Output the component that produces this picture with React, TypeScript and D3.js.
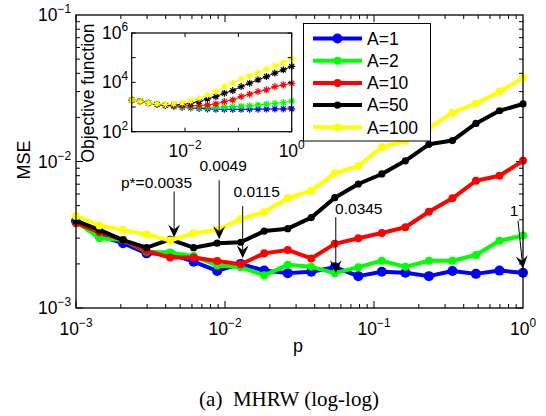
import React, { useEffect, useRef } from "react";
import * as d3 from "d3";

// sampling probabilities p (20 log-spaced points)
const pValues = [
  0.001, 0.0014384, 0.0020691, 0.0029764, 0.0042813, 0.0061585, 0.0088587, 0.012743, 0.01833, 0.026367,
  0.037927, 0.054556, 0.078476, 0.11288, 0.16238, 0.23357, 0.33598, 0.48329, 0.69519, 1,
];

const seriesNames = ["A=1", "A=2", "A=10", "A=50", "A=100"];
const seriesColors = ["#0000ff", "#00ff00", "#ff0000", "#000000", "#ffff00"];
const markerRadius = [5, 4, 4, 3.6, 4];

// MSE (main plot)
const mseA1 = [
  0.00393, 0.0031, 0.00277, 0.00236, 0.00234, 0.00207, 0.00179, 0.002, 0.0018, 0.00173,
  0.00177, 0.0019, 0.00165, 0.00177, 0.00174, 0.00165, 0.00179, 0.00171, 0.0018, 0.00174,
];
const mseA2 = [
  0.0039, 0.00299, 0.00291, 0.00242, 0.00239, 0.00226, 0.00195, 0.0019, 0.00167, 0.00197,
  0.00191, 0.00173, 0.0019, 0.0021, 0.00191, 0.0021, 0.0021, 0.0023, 0.00288, 0.00312,
];
const mseA10 = [
  0.00379, 0.0033, 0.00291, 0.00245, 0.00221, 0.00221, 0.00209, 0.00199, 0.00236, 0.00249,
  0.00218, 0.00274, 0.00299, 0.00325, 0.00356, 0.00454, 0.00561, 0.00739, 0.008, 0.0101,
];
const mseA50 = [
  0.00393, 0.00341, 0.00291, 0.00258, 0.00294, 0.00258, 0.00277, 0.00281, 0.00335, 0.00348,
  0.00414, 0.00566, 0.00702, 0.00822, 0.0101, 0.0131, 0.0139, 0.0182, 0.0222, 0.0247,
];
const mseA100 = [
  0.00425, 0.00366, 0.00341, 0.00318, 0.00289, 0.00324, 0.00341, 0.00405, 0.00452, 0.00561,
  0.00632, 0.00831, 0.00932, 0.0125, 0.0138, 0.0169, 0.0215, 0.0249, 0.03, 0.037,
];

// objective function (inset)
const objA1 = [
  1945, 1690, 1470, 1275, 1160, 1058, 963, 919, 877, 837, 814, 814, 814, 814, 822, 822, 830, 837, 837, 837,
];
const objA2 = [
  1945, 1690, 1470, 1275, 1160, 1058, 1009, 963, 963, 963, 982, 1009, 1038, 1078, 1109, 1217, 1300, 1400, 1510, 1770,
];
const objA10 = [
  1945, 1690, 1470, 1275, 1160, 1109, 1109, 1109, 1160, 1217, 1340, 1660, 1945, 2650, 3310, 4230, 4960, 6750, 7910, 9100,
];
const objA50 = [
  1945, 1690, 1470, 1275, 1217, 1217, 1275, 1400, 1690, 2130, 2650, 3640, 4640, 6750, 9270, 12600, 17200, 23700, 32200, 44700,
];
const objA100 = [
  1945, 1690, 1470, 1340, 1275, 1340, 1470, 1770, 2240, 3100, 4230, 6750, 9270, 13500, 18400, 25000, 34400, 46900, 63800, 90200,
];

const mseSeries = [mseA1, mseA2, mseA10, mseA50, mseA100];
const objSeries = [objA1, objA2, objA10, objA50, objA100];

const xTickExps = [-3, -2, -1, 0];
const yTickExps = [-3, -2, -1];
const insetXTickExps = [-2, 0];
const insetYTickExps = [2, 4, 6];

// text arrows: tip sits on a data point (series index, p index), offsets in px
const annotations = [
  { text: "p*=0.0035", s: 4, i: 4, tipDx: 4, tipDy: -3, len: 46, textDx: 18, textDy: -49, anchor: "end" },
  { text: "0.0049", s: 3, i: 6, tipDx: 2, tipDy: -4, len: 59, textDx: 4, textDy: -68, anchor: "middle" },
  { text: "0.0115", s: 2, i: 7, tipDx: 2, tipDy: -6, len: 52, textDx: 14, textDy: -61, anchor: "middle" },
  { text: "0.0345", s: 1, i: 11, tipDx: 1, tipDy: 0, len: 56, textDx: 23, textDy: -59, anchor: "middle" },
  { text: "1", s: 0, i: 19, tipDx: 0, tipDy: -4, len: 48, textDx: -9, textDy: -53, anchor: "middle", slant: -5 },
];

const FONT = "'Liberation Sans', Arial, Helvetica, sans-serif";

function addPow(g, x, y, exp, anchor, size) {
  const t = g
    .append("text")
    .attr("x", x)
    .attr("y", y)
    .attr("text-anchor", anchor)
    .attr("font-family", FONT)
    .attr("font-size", size)
    .attr("fill", "#000");
  t.append("tspan").text("10");
  t.append("tspan")
    .attr("dy", -size * 0.45)
    .attr("font-size", size * 0.68)
    .text(String(exp).replace("-", "\u2212"));
  return t;
}

export default function App() {
  const ref = useRef(null);

  useEffect(() => {
    const svg = d3.select(ref.current);
    svg.selectAll("*").remove();

    const left = 76,
      right = 523,
      top = 15,
      bottom = 308;

    const x = d3.scaleLog().domain([1e-3, 1]).range([left, right]);
    const y = d3.scaleLog().domain([1e-3, 1e-1]).range([bottom, top]);

    svg.append("rect").attr("width", 546).attr("height", 416).attr("fill", "#fff");

    // ticks (inward, both sides)
    const ticks = svg.append("g").attr("stroke", "#000").attr("stroke-width", 1);
    for (let d = -3; d < 0; d++) {
      for (let k = 1; k < 10; k++) {
        const v = k * Math.pow(10, d);
        const len = k === 1 ? 7 : 4;
        const px = x(v);
        ticks.append("line").attr("x1", px).attr("x2", px).attr("y1", bottom).attr("y2", bottom - len);
        ticks.append("line").attr("x1", px).attr("x2", px).attr("y1", top).attr("y2", top + len);
      }
    }
    for (let d = -3; d < -1; d++) {
      for (let k = 1; k < 10; k++) {
        const v = k * Math.pow(10, d);
        const len = k === 1 ? 7 : 4;
        const py = y(v);
        ticks.append("line").attr("x1", left).attr("x2", left + len).attr("y1", py).attr("y2", py);
        ticks.append("line").attr("x1", right).attr("x2", right - len).attr("y1", py).attr("y2", py);
      }
    }

    // lines + markers
    const line = d3
      .line()
      .x((d) => x(d[0]))
      .y((d) => y(d[1]));

    mseSeries.forEach((vals, s) => {
      const pts = pValues.map((p, i) => [p, vals[i]]);
      svg
        .append("path")
        .attr("d", line(pts))
        .attr("fill", "none")
        .attr("stroke", seriesColors[s])
        .attr("stroke-width", 4)
        .attr("stroke-linejoin", "round");
      svg
        .append("g")
        .selectAll("circle")
        .data(pts)
        .enter()
        .append("circle")
        .attr("cx", (d) => x(d[0]))
        .attr("cy", (d) => y(d[1]))
        .attr("r", markerRadius[s])
        .attr("fill", seriesColors[s]);
    });

    // frame
    svg
      .append("rect")
      .attr("x", left)
      .attr("y", top)
      .attr("width", right - left)
      .attr("height", bottom - top)
      .attr("fill", "none")
      .attr("stroke", "#000")
      .attr("stroke-width", 1.3);

    // tick labels
    xTickExps.forEach((e) => addPow(svg, x(Math.pow(10, e)), 335, e, "middle", 17.5));
    yTickExps.forEach((e) => addPow(svg, 71, y(Math.pow(10, e)) + 6, e, "end", 17.5));

    svg
      .append("text")
      .attr("x", 298)
      .attr("y", 352)
      .attr("text-anchor", "middle")
      .attr("font-family", FONT)
      .attr("font-size", 18)
      .text("p");
    svg
      .append("text")
      .attr("transform", "translate(30,160) rotate(-90)")
      .attr("text-anchor", "middle")
      .attr("font-family", FONT)
      .attr("font-size", 18)
      .text("MSE");

    // annotations
    annotations.forEach((a) => {
      const tx = x(pValues[a.i]) + a.tipDx;
      const ty = y(mseSeries[a.s][a.i]) + a.tipDy;
      const sx = tx + (a.slant || 0);
      const sy = ty - a.len;
      const ang = Math.atan2(ty - sy, tx - sx);
      const hl = 13,
        hw = 6,
        notch = 5;
      const bx = tx - hl * Math.cos(ang),
        by = ty - hl * Math.sin(ang);
      const nx = tx - (hl - notch) * Math.cos(ang),
        ny = ty - (hl - notch) * Math.sin(ang);
      const px = -Math.sin(ang),
        py = Math.cos(ang);
      svg
        .append("line")
        .attr("x1", sx)
        .attr("y1", sy)
        .attr("x2", nx)
        .attr("y2", ny)
        .attr("stroke", "#000")
        .attr("stroke-width", 1);
      svg
        .append("path")
        .attr(
          "d",
          `M${tx},${ty}L${bx + px * hw},${by + py * hw}L${nx},${ny}L${bx - px * hw},${by - py * hw}Z`
        )
        .attr("fill", "#000");
      svg
        .append("text")
        .attr("x", x(pValues[a.i]) + a.tipDx + a.textDx)
        .attr("y", ty + a.textDy)
        .attr("text-anchor", a.anchor)
        .attr("font-family", FONT)
        .attr("font-size", 15.5)
        .text(a.text);
    });

    // legend
    const lg = svg.append("g");
    lg.append("rect")
      .attr("x", 303.5)
      .attr("y", 23.5)
      .attr("width", 127)
      .attr("height", 117.5)
      .attr("fill", "#fff")
      .attr("stroke", "#000")
      .attr("stroke-width", 1);
    seriesNames.forEach((name, s) => {
      const cy = 38.5 + s * 22.2;
      lg.append("line")
        .attr("x1", 313)
        .attr("x2", 362)
        .attr("y1", cy)
        .attr("y2", cy)
        .attr("stroke", seriesColors[s])
        .attr("stroke-width", 4);
      lg.append("circle").attr("cx", 337.5).attr("cy", cy).attr("r", markerRadius[s]).attr("fill", seriesColors[s]);
      lg.append("text")
        .attr("x", 367)
        .attr("y", cy + 6.2)
        .attr("font-family", FONT)
        .attr("font-size", 17.5)
        .text(name);
    });

    // inset
    const il = 131.7,
      ir = 291.7,
      it = 33,
      ib = 131.7;
    const ix = d3.scaleLog().domain([1e-3, 1]).range([il, ir]);
    const iy = d3.scaleLog().domain([1e2, 1e6]).range([ib, it]);
    const ig = svg.append("g");
    ig.append("rect")
      .attr("x", il)
      .attr("y", it)
      .attr("width", ir - il)
      .attr("height", ib - it)
      .attr("fill", "#fff");

    const iline = d3
      .line()
      .x((d) => ix(d[0]))
      .y((d) => iy(d[1]));
    const star = "M-3.5,0L3.5,0M0,-3.5L0,3.5M-2.5,-2.5L2.5,2.5M-2.5,2.5L2.5,-2.5";
    objSeries.forEach((vals, s) => {
      const pts = pValues.map((p, i) => [p, vals[i]]);
      ig.append("path")
        .attr("d", iline(pts))
        .attr("fill", "none")
        .attr("stroke", seriesColors[s])
        .attr("stroke-width", 1);
      ig.append("g")
        .selectAll("path")
        .data(pts)
        .enter()
        .append("path")
        .attr("transform", (d) => `translate(${ix(d[0])},${iy(d[1])})`)
        .attr("d", star)
        .attr("stroke", seriesColors[s])
        .attr("stroke-width", 1.2)
        .attr("fill", "none");
    });

    const it2 = ig.append("g").attr("stroke", "#000").attr("stroke-width", 1);
    [-3, -2, -1, 0].forEach((e) => {
      const px = ix(Math.pow(10, e));
      it2.append("line").attr("x1", px).attr("x2", px).attr("y1", ib).attr("y2", ib - 4);
      it2.append("line").attr("x1", px).attr("x2", px).attr("y1", it).attr("y2", it + 4);
    });
    [2, 3, 4, 5, 6].forEach((e) => {
      const py = iy(Math.pow(10, e));
      it2.append("line").attr("x1", il).attr("x2", il + 4).attr("y1", py).attr("y2", py);
      it2.append("line").attr("x1", ir).attr("x2", ir - 4).attr("y1", py).attr("y2", py);
    });
    ig.append("rect")
      .attr("x", il)
      .attr("y", it)
      .attr("width", ir - il)
      .attr("height", ib - it)
      .attr("fill", "none")
      .attr("stroke", "#000")
      .attr("stroke-width", 1.2);

    insetXTickExps.forEach((e) => addPow(ig, ix(Math.pow(10, e)), 157, e, "middle", 17.5));
    insetYTickExps.forEach((e) => addPow(ig, 128, iy(Math.pow(10, e)) + 6, e, "end", 17.5));
    ig.append("text")
      .attr("transform", "translate(94,93) rotate(-90)")
      .attr("text-anchor", "middle")
      .attr("font-family", FONT)
      .attr("font-size", 17.5)
      .text("Objective function");

    // caption
    svg
      .append("text")
      .attr("x", 289)
      .attr("y", 406)
      .attr("text-anchor", "middle")
      .attr("font-family", "'Liberation Serif', 'Times New Roman', serif")
      .attr("font-size", 21)
      .attr("xml:space", "preserve")
      .text("(a)  MHRW (log-log)");
  }, []);

  return (
    <svg
      ref={ref}
      width={546}
      height={416}
      style={{ position: "absolute", left: 0, top: 0 }}
    />
  );
}
